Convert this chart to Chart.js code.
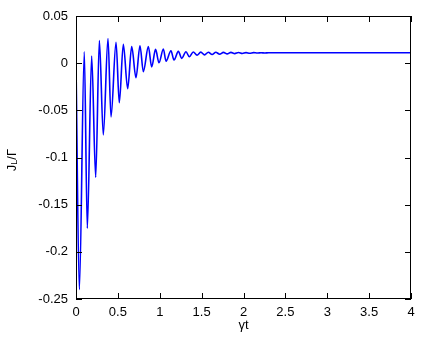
<!DOCTYPE html>
<html>
<head>
<meta charset="utf-8">
<script src="https://cdn.jsdelivr.net/npm/chart.js@4.4.0/dist/chart.umd.min.js"></script>
<style>
  html, body { margin: 0; padding: 0; background: #fff; }
  #wrap { width: 436px; height: 343px; }
</style>
</head>
<body>
<div id="wrap"><canvas id="currentChart" width="436" height="343"></canvas></div>
<script>
// gamma*t of each turning point of the current
const times = [
  0, 0.04, 0.099, 0.135, 0.187, 0.235, 0.279, 0.326, 0.382, 0.418,
  0.478, 0.517, 0.565, 0.617, 0.665, 0.716, 0.764, 0.804, 0.864, 0.904,
  0.95, 0.991, 1.043, 1.075, 1.134, 1.17, 1.222, 1.262, 1.313, 1.353,
  1.4, 1.445, 1.49, 1.535, 1.58, 1.625, 1.67, 1.715, 1.76, 1.805,
  1.85, 1.895, 1.94, 1.985, 2.03, 2.075, 2.12, 2.165, 2.21, 2.255,
  2.3, 2.5, 4.0
];
// J_L / Gamma at those times
const current = [
  0, -0.24, 0.012, -0.175, 0.0075, -0.121, 0.024, -0.076, 0.026, -0.057,
  0.022, -0.042, 0.02, -0.027, 0.0175, -0.0155, 0.0185, -0.009, 0.0175, -0.004,
  0.0146, 0.0004, 0.015, 0.0022, 0.0132, 0.0033, 0.0125, 0.0051, 0.0121, 0.0068,
  0.0118, 0.0085, 0.0117, 0.0088, 0.0116, 0.0092, 0.0115, 0.0095, 0.0114, 0.0098,
  0.0114, 0.0101, 0.0113, 0.0103, 0.0112, 0.0105, 0.0112, 0.0107, 0.0111, 0.0108,
  0.011, 0.011, 0.011
];

const xTicks = [0, 0.5, 1, 1.5, 2, 2.5, 3, 3.5, 4];
const xTickLabels = ["0", "0.5", "1", "1.5", "2", "2.5", "3", "3.5", "4"];
const yTicks = [-0.25, -0.2, -0.15, -0.1, -0.05, 0, 0.05];
const yTickLabels = ["-0.25", "-0.2", "-0.15", "-0.1", "-0.05", "0", "0.05"];

const FONT = "'Liberation Sans', Arial, Helvetica, sans-serif";

// gnuplot style box: frame plus inward ticks on all four sides, and axis titles
const frameAndTicks = {
  id: "frameAndTicks",
  afterDatasetsDraw(chart) {
    const { ctx, chartArea: a, scales: { x, y } } = chart;
    ctx.save();
    ctx.strokeStyle = "#000";
    ctx.lineWidth = 1;
    ctx.beginPath();
    xTicks.forEach((v) => {
      const px = Math.round(x.getPixelForValue(v)) + 0.5;
      ctx.moveTo(px, a.bottom); ctx.lineTo(px, a.bottom - 6);
      ctx.moveTo(px, a.top); ctx.lineTo(px, a.top + 6);
    });
    yTicks.forEach((v) => {
      const py = Math.round(y.getPixelForValue(v)) + 0.5;
      ctx.moveTo(a.left, py); ctx.lineTo(a.left + 6, py);
      ctx.moveTo(a.right, py); ctx.lineTo(a.right - 6, py);
    });
    ctx.stroke();
    ctx.strokeRect(a.left + 0.5, a.top + 0.5, a.right - a.left - 1, a.bottom - a.top - 1);

    // x title
    ctx.fillStyle = "#000";
    ctx.font = "13px " + FONT;
    ctx.textAlign = "center";
    ctx.textBaseline = "middle";
    ctx.fillText("\u03b3t", (a.left + a.right) / 2, 325);

    // y title J_L/Gamma, rotated
    ctx.translate(12, 160);
    ctx.rotate(-Math.PI / 2);
    ctx.textAlign = "left";
    const big = "13px " + FONT, small = "9px " + FONT;
    ctx.font = big; const wJ = ctx.measureText("J").width;
    ctx.font = small; const wL = ctx.measureText("L").width;
    ctx.font = big; const wR = ctx.measureText("/\u0393").width;
    let cx = -(wJ + wL + wR) / 2;
    ctx.font = big; ctx.fillText("J", cx, 0); cx += wJ;
    ctx.font = small; ctx.fillText("L", cx, 3); cx += wL;
    ctx.font = big; ctx.fillText("/\u0393", cx, 0);
    ctx.restore();
  }
};

const ctx = document.getElementById("currentChart").getContext("2d");
new Chart(ctx, {
  type: "line",
  data: {
    datasets: [{
      data: times.map((t, i) => ({ x: t, y: current[i] })),
      borderColor: "#0000ff",
      borderWidth: 1.6,
      pointRadius: 0,
      fill: false,
      cubicInterpolationMode: "monotone",
    }],
  },
  options: {
    responsive: false,
    animation: false,
    devicePixelRatio: 1,
    layout: { padding: { left: 0, top: 16, right: 25, bottom: 0 } },
    plugins: { legend: { display: false }, tooltip: { enabled: false } },
    scales: {
      x: {
        type: "linear",
        min: 0,
        max: 4,
        grid: { display: false, drawTicks: false },
        border: { display: false },
        afterFit: (scale) => { scale.height = 44; },
        afterBuildTicks: (scale) => { scale.ticks = xTicks.map((v) => ({ value: v })); },
        ticks: {
          padding: 6,
          color: "#000",
          font: { family: FONT, size: 13 },
          maxRotation: 0,
          callback: (v) => xTickLabels[xTicks.indexOf(v)],
        },
      },
      y: {
        type: "linear",
        min: -0.25,
        max: 0.05,
        grid: { display: false, drawTicks: false },
        border: { display: false },
        afterFit: (scale) => { scale.width = 76; },
        afterBuildTicks: (scale) => { scale.ticks = yTicks.map((v) => ({ value: v })); },
        ticks: {
          padding: 8,
          color: "#000",
          font: { family: FONT, size: 13 },
          callback: (v) => yTickLabels[yTicks.indexOf(v)],
        },
      },
    },
  },
  plugins: [frameAndTicks],
});
</script>
</body>
</html>
